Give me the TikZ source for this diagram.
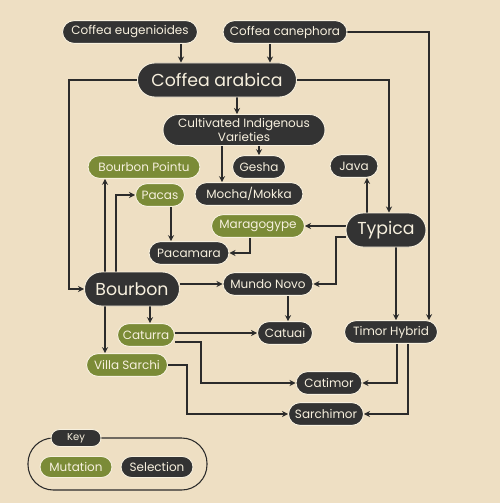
\documentclass[tikz,border=0pt]{standalone}
\usepackage{fontspec}
\setmainfont{Poppins}
\usetikzlibrary{arrows.meta}
\definecolor{paper}{HTML}{EEDFC3}
\definecolor{dark}{HTML}{333333}
\definecolor{olive}{HTML}{7B8B37}
\definecolor{cream}{HTML}{F7F0DE}
\definecolor{wire}{HTML}{2B2B2B}
\pgfdeclarelayer{back}
\pgfsetlayers{back,main}
\tikzset{
  box/.style={rectangle, rounded corners=8.6pt, draw=cream, line width=0.7pt, text=cream,
    minimum height=17pt, inner xsep=2pt, inner ysep=0pt, font=\fontsize{9}{9.5}\selectfont},
  selbox/.style={box, fill=dark, minimum width=#1*0.75pt},
  mutbox/.style={box, fill=olive, minimum width=#1*0.75pt},
  bigbox/.style={selbox=#1, minimum height=25.5pt, rounded corners=12.75pt, font=\fontsize{13}{14}\selectfont},
  link/.style={draw=wire, line width=1pt, -{Stealth[length=4.5pt,width=4.5pt]}},
}
\begin{document}
\begin{tikzpicture}[x=0.75pt,y=-0.75pt]
\begin{pgfonlayer}{back}
  \fill[paper] (0,0) rectangle (500,503);
\end{pgfonlayer}
% species
\node[selbox=135] (eugen) at (130,32) {Coffea eugenioides};
\node[selbox=124] (canep) at (285,32) {Coffea canephora};
\node[bigbox=159] (arab) at (217,80) {Coffea arabica};
\node[selbox=162, minimum height=23.25pt, rounded corners=11.6pt, align=center, font=\fontsize{9}{9}\selectfont] (civ) at (244,130) {Cultivated Indigenous\\Varieties};
% varieties
\node[mutbox=112] (pointu) at (144,167) {Bourbon Pointu};
\node[selbox=53] (gesha) at (259,167) {Gesha};
\node[selbox=48] (java) at (354,166) {Java};
\node[mutbox=49] (pacas) at (160,195) {Pacas};
\node[selbox=108] (mocha) at (249,194) {Mocha/Mokka};
\node[mutbox=93] (marag) at (258,226) {Maragogype};
\node[bigbox=80] (typica) at (386,230) {Typica};
\node[selbox=80] (pacam) at (189,253) {Pacamara};
\node[bigbox=95] (bourbon) at (132,289) {Bourbon};
\node[selbox=90] (mundo) at (268,284) {Mundo Novo};
\node[mutbox=57] (caturra) at (146,335) {Caturra};
\node[selbox=55] (catuai) at (285,333) {Catuai};
\node[selbox=93] (timor) at (391,332) {Timor Hybrid};
\node[mutbox=81] (villa) at (127,365) {Villa Sarchi};
\node[selbox=66] (catimor) at (329,383) {Catimor};
\node[selbox=75] (sarchi) at (326,414) {Sarchimor};
% key
\node[selbox=50, minimum height=12.75pt, rounded corners=6.3pt, font=\fontsize{7.5}{8}\selectfont] (keylbl) at (76,438) {Key};
\node[mutbox=72, minimum height=15.75pt, rounded corners=7.8pt] (mutkey) at (76,467) {Mutation};
\node[selbox=72, minimum height=15.75pt, rounded corners=7.8pt] (selkey) at (157,467) {Selection};
\begin{pgfonlayer}{back}
  \draw[wire, line width=0.8pt, rounded corners=19pt] (28,438) rectangle (207,490);
  % lineage
  \draw[link] (eugen.south -| 181,0) -- (arab.north -| 181,0);
  \draw[link] (canep.south -| 270,0) -- (arab.north -| 270,0);
  \draw[link] (canep.east) -| (timor.north -| 429,0);
  \draw[link] (arab.west) -| (69,0 |- bourbon.west) -- (bourbon.west);
  \draw[link] (arab.east) -| (typica.north -| 389,0);
  \draw[link] (arab.south -| 237,0) -- (civ.north -| 237,0);
  \draw[link] (civ.south -| 259,0) -- (gesha.north -| 259,0);
  \draw[link] (civ.south -| 222,0) -- (mocha.north -| 222,0);
  \draw[link] (bourbon.north -| 105,0) -- (pointu.south -| 105,0);
  \draw[link] (bourbon.north -| 116,0) |- (pacas.west);
  \draw[link] (pacas.south -| 171,0) -- (pacam.north -| 171,0);
  \draw[link] (marag.south -| 250,0) |- (pacam.east);
  \draw[link] (marag.east -| typica.west) -- (marag.east);
  \draw[link] (typica.north -| 367,0) -- (java.south -| 367,0);
  \draw[link] ([yshift=-5.25pt]typica.west) -| (336,0 |- mundo.east) -- (mundo.east);
  \draw[link] (bourbon.east |- mundo.west) -- (mundo.west);
  \draw[link] (mundo.south -| 288,0) -- (catuai.north -| 288,0);
  \draw[link] (typica.south -| 396,0) -- (timor.north -| 396,0);
  \draw[link] (bourbon.south -| 150,0) -- (caturra.north -| 150,0);
  \draw[link] (bourbon.south -| 105,0) -- (villa.north -| 105,0);
  \draw[link] (caturra.east |- catuai.west) -- (catuai.west);
  \draw[link] ([yshift=-5.25pt]caturra.east) -| (201,0 |- catimor.west) -- (catimor.west);
  \draw[link] (villa.east) -| (187,0 |- sarchi.west) -- (sarchi.west);
  \draw[link] (timor.south -| 397,0) |- (catimor.east);
  \draw[link] (timor.south -| 408,0) |- (sarchi.east);
\end{pgfonlayer}
\end{tikzpicture}
\end{document}
